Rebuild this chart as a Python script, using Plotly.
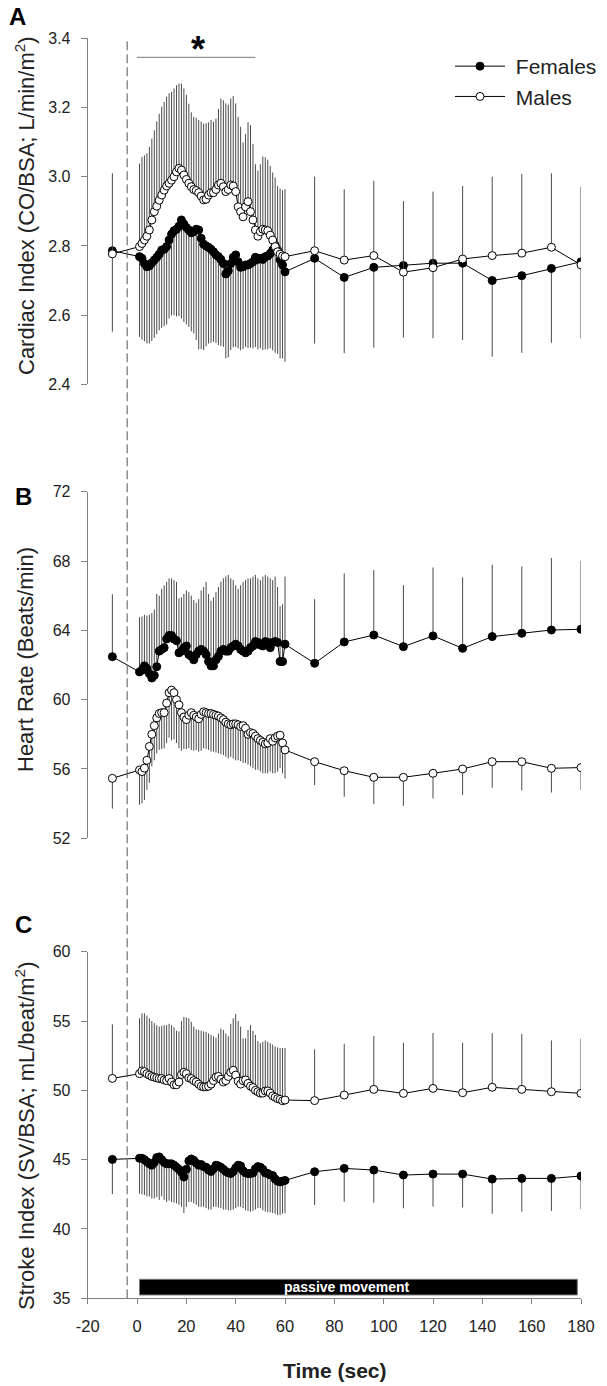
import plotly.graph_objects as go

# ---------------- data ----------------
TIME = [-10] + list(range(1, 61)) + [72, 84, 96, 108, 120, 132, 144, 156, 168, 180]

# Panel A: Cardiac index
CI_F = [2.786,
        2.769, 2.764, 2.749, 2.740, 2.742, 2.751, 2.759, 2.767, 2.776, 2.788,
        2.790, 2.798, 2.817, 2.834, 2.844, 2.848, 2.857, 2.875, 2.863, 2.853,
        2.846, 2.838, 2.841, 2.848, 2.846, 2.822, 2.805, 2.800, 2.796, 2.790,
        2.783, 2.774, 2.769, 2.761, 2.749, 2.719, 2.728, 2.749, 2.767, 2.774,
        2.754, 2.738, 2.740, 2.745, 2.745, 2.749, 2.754, 2.767, 2.761, 2.764,
        2.761, 2.769, 2.771, 2.778, 2.788, 2.802, 2.788, 2.760, 2.745, 2.725,
        2.764, 2.709, 2.738, 2.743, 2.750, 2.750, 2.700, 2.714, 2.735, 2.754]
CI_F_SD = [0.234,
           0.232, 0.235, 0.225, 0.222, 0.224, 0.226, 0.225, 0.222, 0.220, 0.225,
           0.222, 0.225, 0.227, 0.235, 0.244, 0.252, 0.260, 0.285, 0.283, 0.280,
           0.280, 0.285, 0.294, 0.320, 0.345, 0.320, 0.306, 0.290, 0.278, 0.270,
           0.260, 0.255, 0.256, 0.250, 0.241, 0.244, 0.250, 0.250, 0.260, 0.266,
           0.250, 0.240, 0.238, 0.237, 0.240, 0.243, 0.250, 0.259, 0.260, 0.260,
           0.262, 0.268, 0.270, 0.274, 0.290, 0.311, 0.300, 0.285, 0.270, 0.260,
           0.246, 0.219, 0.232, 0.208, 0.217, 0.222, 0.220, 0.223, 0.215, 0.221]
CI_M = [2.777,
        2.798, 2.807, 2.817, 2.828, 2.846, 2.875, 2.899, 2.915, 2.932, 2.947,
        2.961, 2.973, 2.981, 2.990, 3.000, 3.014, 3.024, 3.019, 3.005, 2.992,
        2.981, 2.971, 2.963, 2.960, 2.954, 2.944, 2.933, 2.935, 2.947, 2.954,
        2.954, 2.963, 2.976, 2.981, 2.971, 2.957, 2.963, 2.976, 2.973, 2.957,
        2.913, 2.899, 2.884, 2.913, 2.928, 2.899, 2.875, 2.846, 2.828, 2.841,
        2.848, 2.846, 2.844, 2.831, 2.817, 2.798, 2.783, 2.776, 2.771, 2.769,
        2.786, 2.759, 2.772, 2.724, 2.737, 2.762, 2.772, 2.779, 2.796, 2.745]
CI_M_SD = [0.233,
           0.240, 0.250, 0.245, 0.240, 0.240, 0.235, 0.235, 0.245, 0.250, 0.255,
           0.255, 0.258, 0.260, 0.255, 0.255, 0.250, 0.245, 0.250, 0.250, 0.245,
           0.230, 0.215, 0.210, 0.210, 0.210, 0.215, 0.220, 0.220, 0.210, 0.210,
           0.205, 0.205, 0.220, 0.245, 0.250, 0.255, 0.245, 0.250, 0.260, 0.255,
           0.260, 0.245, 0.215, 0.210, 0.230, 0.250, 0.220, 0.190, 0.190, 0.195,
           0.210, 0.210, 0.205, 0.200, 0.195, 0.200, 0.190, 0.190, 0.190, 0.195,
           0.214, 0.205, 0.216, 0.206, 0.220, 0.211, 0.228, 0.229, 0.214, 0.226]

# Panel B: Heart rate
HR_F = [62.48,
        61.6, 61.7, 61.95, 61.8, 61.5, 61.25, 61.4, 61.9, 62.8, 62.9,
        63.0, 63.5, 63.7, 63.7, 63.5, 63.4, 62.7, 62.8, 63.0, 63.1,
        62.6, 62.5, 62.3, 62.6, 62.8, 62.9, 62.8, 62.6, 62.2, 61.95,
        61.95, 62.3, 62.5, 62.8, 62.9, 62.8, 62.8, 63.0, 63.1, 63.2,
        63.1, 62.9, 62.8, 62.7, 62.8, 63.0, 63.1, 63.35, 63.3, 63.15,
        63.1, 63.35, 63.3, 63.0, 63.3, 63.35, 63.3, 62.2, 62.2, 63.2,
        62.1, 63.33, 63.73, 63.06, 63.68, 62.96, 63.64, 63.83, 64.02, 64.06]
HR_F_SD = [3.6,
           3.15, 3.1, 2.95, 3.05, 3.4, 3.75, 3.8, 4.2, 3.2, 3.5,
           3.6, 3.3, 3.3, 3.3, 3.4, 3.4, 3.15, 3.1, 3.1, 3.2,
           3.6, 3.5, 3.45, 3.0, 3.0, 3.4, 3.7, 4.2, 3.9, 3.75,
           3.95, 3.9, 4.0, 4.0, 4.1, 4.3, 4.4, 4.0, 3.8, 3.4,
           3.3, 3.7, 4.0, 4.2, 4.2, 4.0, 4.0, 3.85, 3.7, 3.75,
           4.0, 3.85, 3.8, 4.0, 3.6, 3.75, 3.2, 3.2, 3.3, 3.9,
           3.7, 3.95, 3.75, 3.55, 3.95, 4.1, 4.15, 3.85, 4.15, 3.95]
HR_M = [55.46,
        55.94, 55.85, 56.05, 56.5, 57.3, 58.0, 58.5, 58.95, 59.2, 59.25,
        59.25, 59.8, 60.4, 60.55, 60.4, 60.0, 59.7, 59.25, 59.0, 58.85,
        59.1, 59.25, 59.1, 59.0, 58.9, 59.15, 59.3, 59.25, 59.2, 59.2,
        59.15, 59.1, 59.05, 58.95, 58.85, 58.7, 58.6, 58.55, 58.6, 58.6,
        58.55, 58.45, 58.5, 58.35, 58.0, 58.1, 58.05, 57.9, 57.75, 57.65,
        57.55, 57.45, 57.5, 57.75, 57.6, 57.8, 57.9, 57.95, 57.5, 57.1,
        56.42, 55.9, 55.52, 55.52, 55.75, 56.0, 56.42, 56.42, 56.04, 56.08]
HR_M_SD = [1.75,
           2.0, 1.83, 1.84, 1.7, 2.1, 1.85, 2.0, 2.05, 2.1, 2.1,
           2.05, 2.3, 2.6, 2.9, 2.7, 2.5, 2.5, 2.2, 1.85, 1.7,
           1.9, 2.15, 2.05, 1.9, 1.9, 2.1, 2.1, 2.1, 2.1, 2.2,
           2.15, 2.15, 2.15, 2.1, 2.05, 2.0, 2.0, 1.85, 2.0, 2.1,
           2.05, 2.0, 2.15, 2.0, 1.75, 1.95, 2.0, 1.95, 1.8, 1.8,
           1.8, 1.7, 1.75, 1.9, 1.85, 2.05, 2.05, 1.9, 1.75, 1.65,
           1.35, 1.5, 1.55, 1.65, 1.45, 1.5, 1.5, 1.65, 1.4, 1.3]

# Panel C: Stroke index
SI_F = [45.02,
        45.1, 45.1, 45.0, 44.85, 44.7, 44.6, 44.8, 45.15, 45.2, 45.0,
        44.8, 44.7, 44.7, 44.7, 44.6, 44.45, 44.3, 44.1, 43.75, 44.3,
        44.9, 45.05, 44.95, 44.75, 44.6, 44.65, 44.5, 44.45, 44.25, 44.15,
        44.35, 44.6, 44.55, 44.45, 44.3, 44.15, 44.05, 44.0, 44.15, 44.4,
        44.6, 44.55, 44.2, 44.05, 44.0, 44.0, 44.05, 44.35, 44.5, 44.45,
        44.3, 44.05, 44.0, 43.9, 43.85, 43.6, 43.45, 43.4, 43.45, 43.5,
        44.13, 44.37, 44.25, 43.89, 43.96, 43.96, 43.6, 43.65, 43.65, 43.82]
SI_F_SD = [2.5,
           2.55, 2.6, 2.55, 2.5, 2.35, 2.4, 2.6, 2.85, 3.1, 2.65,
           2.7, 2.75, 2.65, 2.75, 2.7, 2.6, 2.55, 2.5, 2.6, 2.7,
           2.95, 3.1, 3.1, 3.0, 3.0, 3.05, 2.9, 2.95, 2.85, 2.75,
           2.75, 3.0, 3.0, 2.95, 2.9, 2.75, 2.7, 2.65, 2.75, 2.9,
           3.0, 2.95, 2.7, 2.7, 2.7, 2.75, 2.75, 2.95, 3.0, 2.95,
           2.95, 2.8, 2.8, 2.7, 2.7, 2.5, 2.45, 2.4, 2.35, 2.35,
           2.4, 2.4, 2.35, 2.4, 2.35, 2.4, 2.5, 2.4, 2.35, 2.4]
SI_M = [50.86,
        51.2, 51.4, 51.35, 51.2, 51.1, 51.0, 50.95, 50.9, 50.85, 50.85,
        50.75, 50.7, 50.85, 50.6, 50.4, 50.4, 50.6, 51.15, 51.3, 51.2,
        50.9, 50.85, 50.7, 50.6, 50.45, 50.3, 50.25, 50.25, 50.3, 50.45,
        50.7, 50.95, 51.0, 50.8, 50.6, 50.7, 51.0, 51.3, 51.45, 51.1,
        50.65, 50.45, 50.7, 50.75, 50.5, 50.3, 50.2, 50.0, 49.9, 49.8,
        49.8, 49.95, 49.95, 49.8, 49.6, 49.5, 49.4, 49.35, 49.25, 49.3,
        49.26, 49.66, 50.07, 49.78, 50.14, 49.83, 50.22, 50.07, 49.9, 49.78]
SI_M_SD = [3.9,
           4.0, 4.15, 4.2, 4.2, 4.1, 4.0, 3.9, 3.8, 3.75, 3.8,
           3.95, 4.0, 3.95, 4.1, 4.15, 3.9, 3.65, 3.85, 4.0, 4.05,
           4.3, 4.1, 3.9, 3.8, 3.9, 4.0, 4.0, 3.95, 3.8, 3.55,
           3.2, 2.85, 3.1, 3.65, 3.75, 3.4, 2.9, 3.5, 3.75, 4.4,
           4.35, 4.15, 3.05, 3.0, 3.85, 4.4, 4.1, 4.0, 3.65, 3.6,
           3.7, 3.65, 3.55, 3.6, 3.7, 3.65, 3.7, 3.7, 3.8, 3.75,
           3.7, 3.7, 3.85, 3.65, 4.0, 3.6, 3.9, 4.0, 3.7, 3.95]

X_TICKS = [-20, 0, 20, 40, 60, 80, 100, 120, 140, 160, 180]
X_TICKTEXT = ["-20", "0", "20", "40", "60", "80", "100", "120", "140", "160", "180"]
A_TICKS = [2.4, 2.6, 2.8, 3.0, 3.2, 3.4]
A_TICKTEXT = ["2.4", "2.6", "2.8", "3.0", "3.2", "3.4"]
B_TICKS = [52, 56, 60, 64, 68, 72]
C_TICKS = [35, 40, 45, 50, 55, 60]

# ---------------- layout helpers ----------------
W, H = 607, 1386
FONT = "Liberation Sans, Arial, sans-serif"


def px_x(p):
    return p / W


def px_y(p):
    return 1 - p / H


XDOM = [px_x(87.7), px_x(581)]
DOMS = {
    "A": [px_y(384.3), px_y(38.3)],
    "B": [px_y(838.3), px_y(491.7)],
    "C": [px_y(1298.3), px_y(951.7)],
}

fig = go.Figure()
ZERO = [0] * len(TIME)


def add_series(xa, ya, y, sd, up, filled, name, show):
    err = dict(type="data", symmetric=False,
               array=sd if up else ZERO, arrayminus=ZERO if up else sd,
               width=0, thickness=1, color="#4a4a4a")
    fig.add_trace(go.Scatter(
        x=TIME, y=y, mode="lines+markers", name=name, showlegend=show,
        xaxis=xa, yaxis=ya,
        line=dict(color="black", width=1),
        marker=dict(size=8, color="black" if filled else "white",
                    line=dict(color="black", width=1)),
        error_y=err, legendrank=1 if filled else 2))


add_series("x", "y", CI_F, CI_F_SD, False, True, " Females", True)
add_series("x", "y", CI_M, CI_M_SD, True, False, " Males", True)
add_series("x2", "y2", HR_F, HR_F_SD, True, True, "Females", False)
add_series("x2", "y2", HR_M, HR_M_SD, False, False, "Males", False)
add_series("x3", "y3", SI_F, SI_F_SD, False, True, "Females", False)
add_series("x3", "y3", SI_M, SI_M_SD, True, False, "Males", False)

tickfont = dict(family=FONT, size=16, color="#222")
yax_common = dict(showline=True, linecolor="#808080", linewidth=1,
                  ticks="outside", ticklen=6, tickcolor="#808080",
                  showgrid=False, zeroline=False, tickfont=tickfont,
                  ticklabelstandoff=7)
xhidden = dict(domain=XDOM, range=[-20, 180], visible=False)

fig.update_layout(
    width=W, height=H, autosize=False,
    margin=dict(l=0, r=0, t=0, b=0, autoexpand=False),
    paper_bgcolor="white", plot_bgcolor="rgba(0,0,0,0)",
    font=dict(family=FONT, color="#222"),
    xaxis=dict(xhidden, anchor="y"),
    xaxis2=dict(xhidden, anchor="y2"),
    xaxis3=dict(domain=XDOM, range=[-20, 180], anchor="y3",
                showline=True, linecolor="#808080", linewidth=1,
                ticks="outside", ticklen=5, tickcolor="#808080",
                tickvals=X_TICKS, ticktext=X_TICKTEXT,
                showgrid=False, zeroline=False,
                tickfont=dict(family=FONT, size=16.5, color="#222"),
                ticklabelstandoff=8),
    yaxis=dict(yax_common, domain=DOMS["A"], range=[2.4, 3.4], anchor="x",
               tickvals=A_TICKS, ticktext=A_TICKTEXT),
    yaxis2=dict(yax_common, domain=DOMS["B"], range=[52, 72], anchor="x2",
                tickvals=B_TICKS),
    yaxis3=dict(yax_common, domain=DOMS["C"], range=[35, 60], anchor="x3",
                tickvals=C_TICKS),
    legend=dict(x=px_x(450), y=px_y(46), xanchor="left", yanchor="top",
                bgcolor="rgba(0,0,0,0)", itemwidth=50,
                font=dict(family=FONT, size=21, color="#222"),
                tracegroupgap=0),
    showlegend=True,
)

# dashed reference line through all panels
fig.add_shape(type="line", xref="x3", yref="paper", x0=-4, x1=-4,
              y0=px_y(1298.3), y1=px_y(38.3),
              line=dict(color="#555", width=1, dash="9px,4px"))
# significance bar
fig.add_shape(type="line", xref="x", yref="y", x0=0, x1=48, y0=3.345, y1=3.345,
              line=dict(color="#777", width=1))
# passive movement bar
fig.add_shape(type="rect", xref="x3", yref="y3", x0=1, x1=178.5, y0=35.24, y1=36.37,
              fillcolor="black", line=dict(color="#777", width=1))

ann = []
ann.append(dict(text="*", xref="paper", yref="paper", x=px_x(197.5), y=px_y(49.5),
                xanchor="center", yanchor="middle", showarrow=False,
                font=dict(family=FONT, size=36, color="black", weight="bold")))
for letter, cx, cy in [("A", 17.5, 16.5), ("B", 24, 496), ("C", 24, 924)]:
    ann.append(dict(text=f"<b>{letter}</b>", xref="paper", yref="paper",
                    x=px_x(cx), y=px_y(cy), xanchor="center", yanchor="middle",
                    showarrow=False, font=dict(family=FONT, size=24, color="black")))
for title, cy in [("Cardiac Index (CO/BSA; L/min/m<sup>2</sup>)", 206),
                  ("Heart Rate (Beats/min)", 660),
                  ("Stroke Index (SV/BSA; mL/beat/m<sup>2</sup>)", 1136)]:
    ann.append(dict(text=title, xref="paper", yref="paper", x=px_x(25), y=px_y(cy),
                    xanchor="center", yanchor="middle", textangle=-90,
                    showarrow=False, font=dict(family=FONT, size=22, color="#222")))
ann.append(dict(text="<b>Time (sec)</b>", xref="paper", yref="paper",
                x=px_x(334.5), y=px_y(1370), xanchor="center", yanchor="middle",
                showarrow=False, font=dict(family=FONT, size=21, color="#222")))
ann.append(dict(text="<b>passive movement</b>", xref="x3", yref="y3",
                x=85.2, y=35.8, xanchor="center", yanchor="middle",
                showarrow=False, font=dict(family=FONT, size=14, color="white")))
fig.update_layout(annotations=ann)

fig.write_html("out.html",
               config={"displayModeBar": False},
               post_script="document.body.style.margin='0';"
                           "document.body.style.overflow='hidden';")
